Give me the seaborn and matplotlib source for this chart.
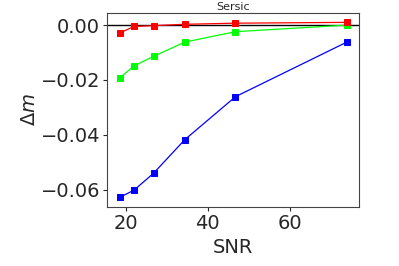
import numpy as np
import pandas as pd
import matplotlib
matplotlib.use("Agg")
import matplotlib.pyplot as plt
import seaborn as sns

# =====================================================
# DATA
# =====================================================

snr = [18.5, 22.0, 26.8, 34.4, 46.8, 74.0]

dm_blue = [-0.0628, -0.0602, -0.0540, -0.0418, -0.0261, -0.0062]
dm_green = [-0.0193, -0.0149, -0.0114, -0.0062, -0.0024, 0.0000]
dm_red = [-0.0029, -0.0005, -0.0002, 0.0003, 0.0007, 0.0010]

series_colors = ["#0000ff", "#00ff00", "#ff0000"]

# =====================================================
# PLOT
# =====================================================

sns.set_style("ticks")
plt.rcParams["font.family"] = ["DejaVu Sans"]

fig = plt.figure(figsize=(3.99, 2.66), dpi=100)
ax = fig.add_axes([0.268, 0.222, 0.632, 0.729])

ax.axhline(0, color="black", lw=1.0, zorder=1)

for values, color in zip([dm_blue, dm_green, dm_red], series_colors):
    df = pd.DataFrame({"SNR": snr, "dm": values})
    sns.lineplot(
        data=df,
        x="SNR",
        y="dm",
        ax=ax,
        color=color,
        marker="s",
        markersize=5,
        markeredgecolor=color,
        lw=0.9,
        zorder=2
    )

ax.set_xlim(15.4, 77.0)
ax.set_ylim(-0.0663, 0.0044)
ax.set_xticks([20, 40, 60])
ax.set_yticks([0.0, -0.02, -0.04, -0.06])
ax.set_yticklabels(["0.00", "\u22120.02", "\u22120.04", "\u22120.06"])

ax.set_title("Sersic", fontsize=8, pad=2)
ax.set_xlabel("SNR", fontsize=14, labelpad=4)
ax.set_ylabel(r"$\Delta m$", fontsize=14, labelpad=1)
ax.tick_params(labelsize=14, length=3, width=0.8, pad=2)

for spine in ax.spines.values():
    spine.set_color("#444444")
    spine.set_linewidth(0.8)

fig.savefig("out.png", dpi=100)
